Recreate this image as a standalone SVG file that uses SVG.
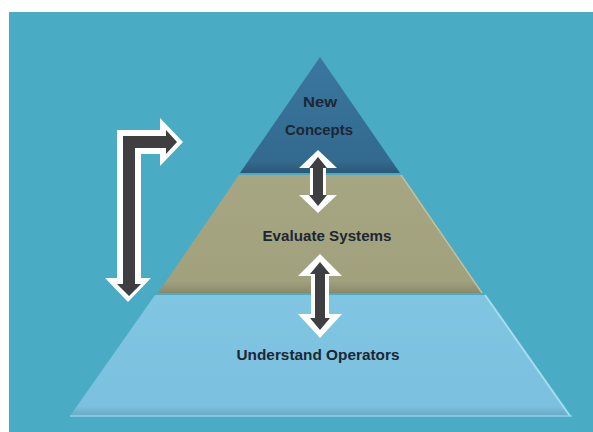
<svg xmlns="http://www.w3.org/2000/svg" width="593" height="432" viewBox="0 0 593 432">
  <defs>
    <style>
      .lbl { font-family: "Liberation Sans", Arial, sans-serif; font-weight: bold; font-size: 15px; fill: #1d2633; text-anchor: middle; }
      .arrow-out { fill: #ffffff; }
      .arrow-in { fill: #3f3f41; }
    </style>
    <linearGradient id="gTop" x1="0" y1="0" x2="0" y2="1">
      <stop offset="0" stop-color="#3a77a0"/>
      <stop offset="0.9" stop-color="#336a8e"/>
      <stop offset="1" stop-color="#2a5878"/>
    </linearGradient>
    <linearGradient id="gMid" x1="0" y1="0" x2="0" y2="1">
      <stop offset="0" stop-color="#a7a683"/>
      <stop offset="0.9" stop-color="#a2a17e"/>
      <stop offset="1" stop-color="#8a8a6a"/>
    </linearGradient>
    <linearGradient id="gBot" x1="0" y1="0" x2="0" y2="1">
      <stop offset="0" stop-color="#80c5e2"/>
      <stop offset="0.92" stop-color="#7bc0de"/>
      <stop offset="1" stop-color="#68a9c6"/>
    </linearGradient>
  </defs>

  <rect x="0" y="0" width="593" height="432" fill="#ffffff"/>
  <rect x="9" y="12" width="584" height="420" fill="#4aabc4"/>

  <g id="tier-bottom">
    <polygon points="155,295 485,295 570,416 70,416" fill="url(#gBot)"/>
    <polyline points="485,295 570,416" fill="none" stroke="#a6dcf0" stroke-width="2"/>
    <line x1="70" y1="416" x2="572" y2="416" stroke="#8fd0ea" stroke-width="1.5"/>
    <text class="lbl" x="318" y="360" textLength="163" lengthAdjust="spacingAndGlyphs">Understand Operators</text>
  </g>

  <g id="tier-middle">
    <polygon points="239,175 401,175 482,293 158,293" fill="url(#gMid)"/>
    <polyline points="401,175 482,293" fill="none" stroke="#c2c19c" stroke-width="1.5"/>
    <text class="lbl" x="327" y="241" textLength="129" lengthAdjust="spacingAndGlyphs">Evaluate Systems</text>
  </g>

  <g id="tier-top">
    <polygon points="320,57 400,173 240,173" fill="url(#gTop)"/>
    <text class="lbl" x="320" y="107" textLength="34" lengthAdjust="spacingAndGlyphs">New</text>
    <text class="lbl" x="319" y="135" textLength="68" lengthAdjust="spacingAndGlyphs">Concepts</text>
  </g>

  <g id="connectors">
    <g id="arrow-upper">
      <polygon class="arrow-out" points="318,150 337,168 326,168 326,195 337,195 318,213 299,195 310,195 310,168 299,168"/>
      <polygon class="arrow-in" points="318,157 327,168 323,168 323,195 327,195 318,206 309,195 313,195 313,168 309,168"/>
    </g>
    <g id="arrow-lower">
      <polygon class="arrow-out" points="320,254 342,276 329,276 329,314 342,314 320,338 298,314 311,314 311,276 298,276"/>
      <polygon class="arrow-in" points="320,262 330,274 325,274 325,318 330,318 320,330 310,318 315,318 315,274 310,274"/>
    </g>
    <g id="arrow-bent">
      <polygon class="arrow-out" points="117,278 117,130 160,130 160,118 183,142 160,166 160,154 141,154 141,278 151,278 128,302 105,278"/>
      <polygon class="arrow-in" points="123,284 123,136 166,136 166,130 177,142 166,154 166,148 135,148 135,284 141,284 129,296 117,284"/>
    </g>
  </g>
</svg>
